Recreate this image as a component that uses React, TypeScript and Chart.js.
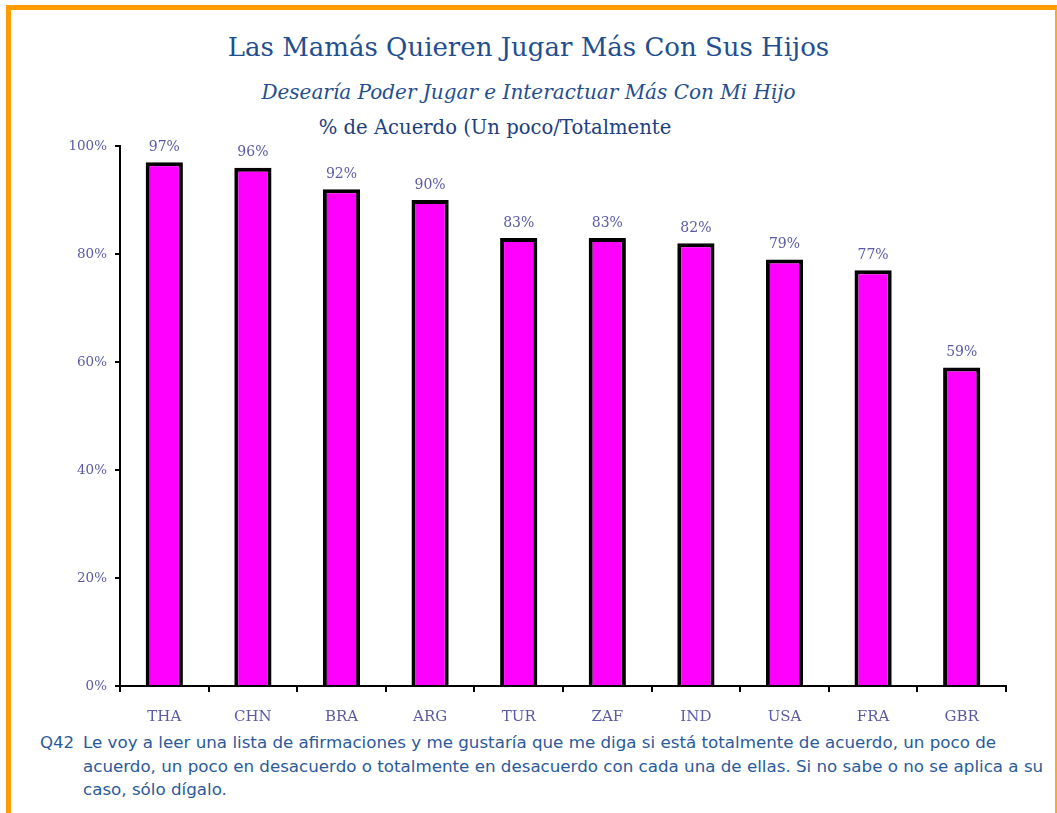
import React, { useEffect, useRef } from "react";
import { Chart, registerables } from "chart.js";

Chart.register(...registerables);

// Countries and share of mothers who agree (a little / totally)
const countries = ["THA", "CHN", "BRA", "ARG", "TUR", "ZAF", "IND", "USA", "FRA", "GBR"];
const agreePct = [97, 96, 92, 90, 83, 83, 82, 79, 77, 59];
const yTicks = [0, 20, 40, 60, 80, 100];

const TITLE = "Las Mamás Quieren Jugar Más Con Sus Hijos";
const SUBTITLE = "Desearía Poder Jugar e Interactuar Más Con Mi Hijo";
const MEASURE = "% de Acuerdo (Un poco/Totalmente";
const NOTE_ID = "Q42";
const NOTE_LINES = [
  "Le voy a leer una lista de afirmaciones y me gustaría que me diga si está totalmente de acuerdo, un poco de",
  "acuerdo, un poco en desacuerdo o totalmente en desacuerdo con cada una de ellas. Si no sabe o no se aplica a su",
  "caso, sólo dígalo.",
];

const LABEL_COLOR = "#5a5aa6";
const TITLE_COLOR = "#1f4f8f";
const SERIF = "'DejaVu Serif', Georgia, serif";
const SANS = "'DejaVu Sans', Verdana, sans-serif";

// Writes the percentage above every bar
const valueLabels = {
  id: "valueLabels",
  afterDatasetsDraw(chart: any) {
    const ctx = chart.ctx;
    const meta = chart.getDatasetMeta(0);
    const data = chart.data.datasets[0].data as number[];
    ctx.save();
    ctx.font = `14px ${SERIF}`;
    ctx.fillStyle = LABEL_COLOR;
    ctx.textAlign = "center";
    ctx.textBaseline = "bottom";
    meta.data.forEach((bar: any, i: number) => {
      ctx.fillText(`${data[i]}%`, bar.x, bar.y - 8);
    });
    ctx.restore();
  },
};

export default function App() {
  const canvasRef = useRef<HTMLCanvasElement | null>(null);

  useEffect(() => {
    if (!canvasRef.current) return;
    const chart = new Chart(canvasRef.current, {
      type: "bar",
      data: {
        labels: countries,
        datasets: [
          {
            data: agreePct,
            backgroundColor: "#ff00ff",
            borderColor: "#000000",
            borderWidth: 4,
            barPercentage: 0.42,
            categoryPercentage: 1,
          },
        ],
      },
      options: {
        responsive: false,
        animation: false,
        layout: { padding: { top: 16, right: 51, left: 0, bottom: 0 } },
        plugins: {
          legend: { display: false },
          tooltip: { enabled: false },
          title: { display: false },
        },
        scales: {
          x: {
            grid: {
              offset: true,
              drawOnChartArea: false,
              drawTicks: true,
              tickLength: 6,
              color: "#000000",
              lineWidth: 2,
            },
            border: { display: true, color: "#000000", width: 2 },
            ticks: {
              color: LABEL_COLOR,
              font: { family: SERIF, size: 15 },
              padding: 16,
            },
            afterFit(scale: any) {
              scale.height = 44;
            },
          },
          y: {
            min: 0,
            max: 100,
            afterBuildTicks(scale: any) {
              scale.ticks = yTicks.map((v) => ({ value: v }));
            },
            grid: {
              drawOnChartArea: false,
              drawTicks: true,
              tickLength: 5,
              color: "#000000",
              lineWidth: 2,
            },
            border: { display: true, color: "#000000", width: 2 },
            ticks: {
              color: LABEL_COLOR,
              font: { family: SERIF, size: 13.5 },
              padding: 8,
              callback: (v: any) => `${v}%`,
            },
            afterFit(scale: any) {
              scale.width = 120;
            },
          },
        },
      },
      plugins: [valueLabels],
    });
    return () => chart.destroy();
  }, []);

  return (
    <div
      style={{
        position: "absolute",
        left: 0,
        top: 0,
        width: 1057,
        height: 813,
        background: "#ffffff",
        overflow: "hidden",
      }}
    >
      {/* orange frame: top, left and right edges */}
      <div
        style={{
          position: "absolute",
          left: 6,
          top: 5,
          width: 1044,
          height: 820,
          borderTop: "5px solid #ff9c00",
          borderLeft: "5px solid #ff9c00",
          borderRight: "2px solid #ffa820",
        }}
      />
      <div
        style={{
          position: "absolute",
          left: 0,
          top: 27,
          width: 1057,
          lineHeight: "40px",
          textAlign: "center",
          fontFamily: SERIF,
          fontSize: 26,
          color: TITLE_COLOR,
          whiteSpace: "nowrap",
        }}
      >
        {TITLE}
      </div>
      <div
        style={{
          position: "absolute",
          left: 0,
          top: 74,
          width: 1057,
          lineHeight: "36px",
          textAlign: "center",
          fontFamily: SERIF,
          fontStyle: "italic",
          fontSize: 20,
          color: TITLE_COLOR,
          whiteSpace: "nowrap",
        }}
      >
        {SUBTITLE}
      </div>
      <div
        style={{
          position: "absolute",
          left: 0,
          top: 112,
          width: 990,
          lineHeight: "32px",
          textAlign: "center",
          fontFamily: SERIF,
          fontSize: 19.6,
          color: "#1d4080",
          whiteSpace: "nowrap",
        }}
      >
        {MEASURE}
      </div>
      <div style={{ position: "absolute", left: 0, top: 130, width: 1057, height: 600 }}>
        <canvas ref={canvasRef} width={1057} height={600} />
      </div>
      <div
        style={{
          position: "absolute",
          left: 40,
          top: 731,
          fontFamily: SANS,
          fontSize: 16.6,
          lineHeight: "23.5px",
          color: "#2a5a9a",
          whiteSpace: "nowrap",
        }}
      >
        {NOTE_ID}
      </div>
      <div
        style={{
          position: "absolute",
          left: 83,
          top: 731,
          fontFamily: SANS,
          fontSize: 16.7,
          lineHeight: "23.5px",
          color: "#2a5a9a",
          whiteSpace: "nowrap",
        }}
      >
        {NOTE_LINES.map((line, i) => (
          <div key={i}>{line}</div>
        ))}
      </div>
    </div>
  );
}
